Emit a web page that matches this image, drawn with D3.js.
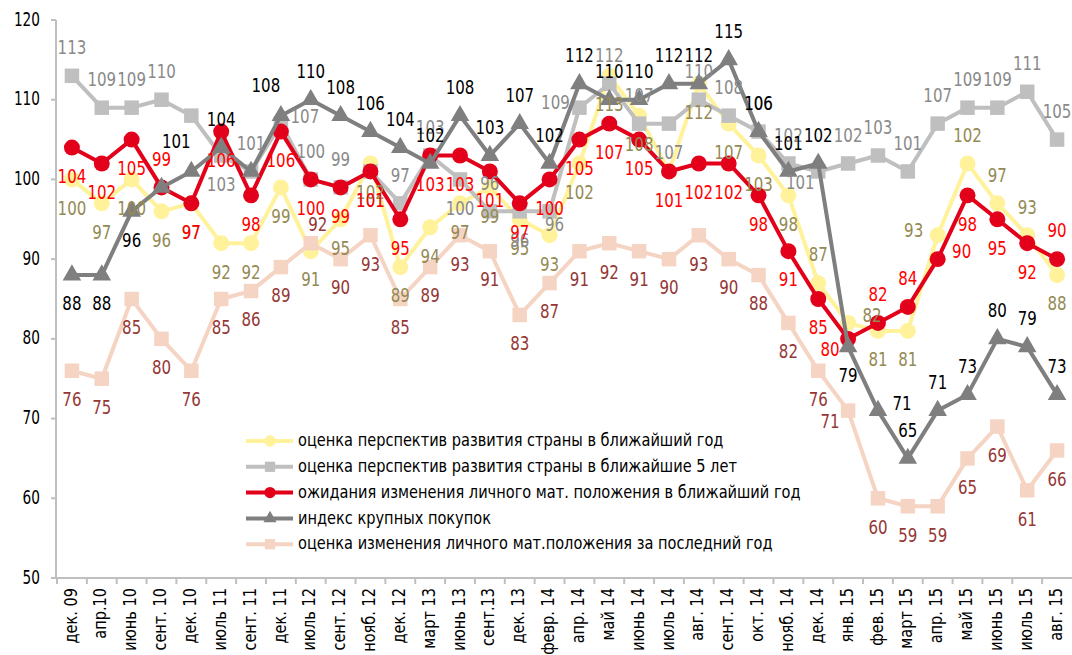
<!DOCTYPE html>
<html>
<head>
<meta charset="utf-8">
<script src="https://d3js.org/d3.v7.min.js"></script>
<style>
  body { margin: 0; background: #fff; }
  svg text { font-family: "Liberation Sans Narrow", "DejaVu Sans Condensed", "Arial Narrow", sans-serif; }
</style>
</head>
<body>
<div id="chart"></div>
<script>
// категории по оси X
var cats = ["дек. 09", "апр.10", "июнь 10", "сент. 10", "дек. 10", "июль 11", "сент. 11", "дек. 11",
  "июль 12", "сент. 12", "нояб. 12", "дек. 12", "март 13", "июнь 13", "сент.13", "дек. 13", "февр. 14",
  "апр. 14", "май 14", "июнь 14", "июль 14", "авг. 14", "сент. 14", "окт. 14", "нояб. 14", "дек. 14",
  "янв. 15", "фев. 15", "март 15", "апр. 15", "май 15", "июнь 15", "июль 15", "авг. 15"];

// ряды
var countryYear = [100, 97, 100, 96, 97, 92, 92, 99, 91, 95, 102, 89, 94, 97, 99, 95, 93,
  102, 113, 108, 101, 112, 107, 103, 98, 87, 82, 81, 81, 93, 102, 97, 93, 88];
var country5y = [113, 109, 109, 110, 108, 103, 101, 107, 100, 99, 101, 97, 103, 100, 96, 96, 96,
  109, 112, 107, 107, 110, 108, 106, 102, 101, 102, 103, 101, 107, 109, 109, 111, 105];
var personalNext = [104, 102, 105, 99, 97, 106, 98, 106, 100, 99, 101, 95, 103, 103, 101, 97, 100,
  105, 107, 105, 101, 102, 102, 98, 91, 85, 80, 82, 84, 90, 98, 95, 92, 90];
var bigBuys = [88, 88, 96, 99, 101, 104, 101, 108, 110, 108, 106, 104, 102, 108, 103, 107, 102,
  112, 110, 110, 112, 112, 115, 106, 101, 102, 79, 71, 65, 71, 73, 80, 79, 73];
var personalPast = [76, 75, 85, 80, 76, 85, 86, 89, 92, 90, 93, 85, 89, 93, 91, 83, 87,
  91, 92, 91, 90, 93, 90, 88, 82, 76, 71, 60, 59, 59, 65, 69, 61, 66];

var yTicks = [50, 60, 70, 80, 90, 100, 110, 120];

var names = ["оценка перспектив развития страны в ближайший год",
  "оценка перспектив развития страны в ближайшие 5 лет",
  "ожидания изменения личного мат. положения в ближайший год",
  "индекс крупных покупок",
  "оценка изменения личного мат.положения за последний год"];

// где стоит подпись точки: a - сверху, b - снизу, l/r - сбоку, n - нет
var series = [
  { name: names[0], values: countryYear, line: "#FFF29B", label: "#948A54", sym: d3.symbolCircle, size: 200, pos: "b",
    fix: { 20: "n", 25: "a", 26: "r", 29: "l", 30: "a", 31: "a", 32: "a" } },
  { name: names[1], values: country5y, line: "#BFBFBF", label: "#8A8A8A", sym: d3.symbolSquare, size: 210, pos: "a",
    fix: { 4: "n", 5: "b", 7: "r", 10: "b", 13: "b", 15: "b", 16: "br", 17: "l", 20: "b", 25: "bl" } },
  { name: names[2], values: personalNext, line: "#E2001A", label: "#FF0000", sym: d3.symbolCircle, size: 200, pos: "b",
    fix: { 3: "a", 26: "bl", 27: "a", 28: "a", 29: "r", 33: "a" } },
  { name: names[3], values: bigBuys, line: "#7F7F7F", label: "#000000", sym: d3.symbolTriangle, size: 150, pos: "a",
    fix: { 0: "b", 1: "b", 2: "b", 3: "n", 4: "al", 6: "n", 7: "al", 26: "b", 27: "r" } },
  { name: names[4], values: personalPast, line: "#F5D4C4", label: "#953735", sym: d3.symbolSquare, size: 210, pos: "b",
    fix: { 8: "ar", 26: "bl" } }
];

var W = 1072, H = 655;
var svg = d3.select("#chart").append("svg").attr("width", W).attr("height", H);

var x = d3.scaleBand().domain(cats).range([57, 1072]);
var y = d3.scaleLinear().domain([50, 120]).range([578, 20]);
var cx = function(i) { return x(cats[i]) + x.bandwidth() / 2; };

// узкий шрифт: сжимаем текст по горизонтали
function narrow(px, py, k) { return "translate(" + px + "," + py + ") scale(" + k + ",1)"; }

// оси
svg.append("line").attr("x1", 56).attr("x2", 56).attr("y1", 20).attr("y2", 578)
  .attr("stroke", "#BFBFBF").attr("stroke-width", 2);
svg.append("line").attr("x1", 56).attr("x2", 1072).attr("y1", 578).attr("y2", 578)
  .attr("stroke", "#BFBFBF").attr("stroke-width", 2);

svg.selectAll(".ytick").data(yTicks).enter().append("line")
  .attr("x1", 51).attr("x2", 56).attr("y1", function(d) { return y(d); }).attr("y2", function(d) { return y(d); })
  .attr("stroke", "#BFBFBF").attr("stroke-width", 2);
svg.selectAll(".ylab").data(yTicks).enter().append("text")
  .attr("transform", function(d) { return narrow(40, y(d), 0.8); })
  .attr("text-anchor", "end").attr("dominant-baseline", "middle")
  .attr("font-size", 19).attr("fill", "#000").text(function(d) { return d; });

svg.selectAll(".xtick").data(cats).enter().append("line")
  .attr("x1", function(d) { return x(d); }).attr("x2", function(d) { return x(d); })
  .attr("y1", 578).attr("y2", 584).attr("stroke", "#BFBFBF").attr("stroke-width", 2);
svg.selectAll(".xlab").data(cats).enter().append("text")
  .attr("transform", function(d) { return "translate(" + (x(d) + x.bandwidth() / 2) + ",588) rotate(-90) scale(0.95,1)"; })
  .attr("text-anchor", "end").attr("dominant-baseline", "middle")
  .attr("font-size", 17).attr("fill", "#000").text(function(d) { return d; });

// линии и маркеры
var line = d3.line().x(function(d, i) { return cx(i); }).y(function(d) { return y(d); });
series.forEach(function(s) {
  var g = svg.append("g");
  g.append("path").datum(s.values).attr("d", line)
    .attr("fill", "none").attr("stroke", s.line).attr("stroke-width", 4).attr("stroke-linejoin", "round");
  g.selectAll("path.m").data(s.values).enter().append("path").attr("class", "m")
    .attr("d", d3.symbol().type(s.sym).size(s.size))
    .attr("transform", function(d, i) { return "translate(" + cx(i) + "," + y(d) + ")"; })
    .attr("fill", s.line);
});

// подписи значений
var off = { a: [0, -27], b: [0, 30], l: [-24, -4], r: [24, -6], al: [-15, -29], ar: [7, -18],
  bl: [-18, 12], br: [5, 14] };
series.forEach(function(s) {
  var pts = s.values.map(function(v, i) { return { v: v, i: i, p: s.fix[i] || s.pos }; })
    .filter(function(d) { return d.p !== "n"; });
  svg.append("g").selectAll("text").data(pts).enter().append("text")
    .attr("transform", function(d) { return narrow(cx(d.i) + off[d.p][0], y(d.v) + off[d.p][1], 0.88); })
    .attr("text-anchor", "middle").attr("dominant-baseline", "middle")
    .attr("font-size", 19).attr("fill", s.label).text(function(d) { return d.v; });
});

// легенда
var leg = svg.append("g").selectAll("g").data(series).enter().append("g")
  .attr("transform", function(d, i) { return "translate(246," + (441 + i * 25.8) + ")"; });
leg.append("line").attr("x1", 0).attr("x2", 47).attr("stroke", function(d) { return d.line; }).attr("stroke-width", 4);
leg.append("path").attr("d", function(d) { return d3.symbol().type(d.sym).size(d.size * 0.5)(); })
  .attr("transform", "translate(24,0)").attr("fill", function(d) { return d.line; });
leg.append("text").attr("transform", narrow(52, 0, 0.9)).attr("dominant-baseline", "middle")
  .attr("font-size", 18).attr("fill", "#000").text(function(d) { return d.name; });
</script>
</body>
</html>
